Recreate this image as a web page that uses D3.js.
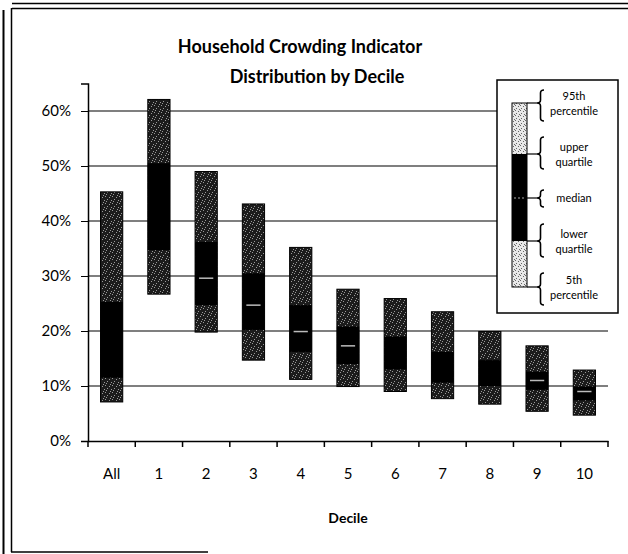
<!DOCTYPE html>
<html>
<head>
<meta charset="utf-8">
<script src="https://cdn.jsdelivr.net/npm/d3@7"></script>
<style>
  body { margin: 0; background: #fff; }
  svg { display: block; font-family: Lato, "Open Sans", sans-serif; }
</style>
</head>
<body>
<svg id="chart" width="628" height="554"></svg>
<script>
// deciles, values (as fractions)
var categories = ["All", "1", "2", "3", "4", "5", "6", "7", "8", "9", "10"];
var p5     = [0.071, 0.267, 0.198, 0.147, 0.112, 0.099, 0.090, 0.077, 0.067, 0.054, 0.047];
var q1     = [0.115, 0.347, 0.247, 0.202, 0.162, 0.140, 0.130, 0.106, 0.100, 0.093, 0.074];
var median = [null,  null,  0.296, 0.247, 0.199, 0.173, null,  null,  null,  0.110, 0.090];
var q3     = [0.253, 0.505, 0.362, 0.305, 0.247, 0.208, 0.190, 0.162, 0.147, 0.126, 0.099];
var p95    = [0.453, 0.621, 0.490, 0.431, 0.352, 0.276, 0.259, 0.235, 0.199, 0.173, 0.129];
var yTicks = [0, 0.1, 0.2, 0.3, 0.4, 0.5, 0.6];

var legendItems = [
    { lines: ["95th", "percentile"], y0: 90, y1: 121, tip: 103 },
    { lines: ["upper", "quartile"],  y0: 137, y1: 169, tip: 154 },
    { lines: ["median"],             y0: 190, y1: 207, tip: 198 },
    { lines: ["lower", "quartile"],  y0: 224, y1: 257, tip: 241 },
    { lines: ["5th", "percentile"],  y0: 273, y1: 305, tip: 287 }
];

var data = categories.map(function(c, i) {
    return { cat: c, p5: p5[i], q1: q1[i], med: median[i], q3: q3[i], p95: p95[i] };
});

var svg = d3.select("#chart");

// speckled textures
var defs = svg.append("defs");
var dark = defs.append("pattern").attr("id", "speckDark")
    .attr("width", 7).attr("height", 7).attr("patternUnits", "userSpaceOnUse");
dark.append("rect").attr("width", 7).attr("height", 7).attr("fill", "#1c1c1c");
[[0, 0], [4, 1], [2, 3], [6, 4], [1, 5], [5, 6]].forEach(function(p) {
    dark.append("rect").attr("x", p[0]).attr("y", p[1]).attr("width", 1).attr("height", 1).attr("fill", "#9a9a9a");
});
var light = defs.append("pattern").attr("id", "speckLight")
    .attr("width", 5).attr("height", 5).attr("patternUnits", "userSpaceOnUse");
light.append("rect").attr("width", 5).attr("height", 5).attr("fill", "#e8e8e8");
[[0, 0], [3, 1], [1, 3], [4, 4]].forEach(function(p) {
    light.append("rect").attr("x", p[0]).attr("y", p[1]).attr("width", 1).attr("height", 1).attr("fill", "#666");
});

// page frame (scanned borders)
var frame = svg.append("g").attr("stroke", "#000").attr("fill", "none");
frame.append("line").attr("x1", 3.5).attr("x2", 3.5).attr("y1", 10).attr("y2", 554).attr("stroke-width", 2);
frame.append("line").attr("x1", 11.5).attr("x2", 11.5).attr("y1", 8).attr("y2", 552).attr("stroke-width", 1.5);
frame.append("line").attr("x1", 12).attr("x2", 628).attr("y1", 3.5).attr("y2", 3.5).attr("stroke-width", 1.5);
frame.append("line").attr("x1", 12).attr("x2", 628).attr("y1", 8.5).attr("y2", 8.5).attr("stroke-width", 1.5);
frame.append("line").attr("x1", 11).attr("x2", 208).attr("y1", 552).attr("y2", 552).attr("stroke-width", 1.5);

var xScale = d3.scaleBand()
    .domain(categories)
    .range([88, 608])
    .paddingInner(0.53)
    .paddingOuter(0.265);

var yScale = d3.scaleLinear()
    .domain([0, 0.65])
    .range([441, 83.5]);

// gridlines
svg.append("g").selectAll("line")
    .data(yTicks.slice(1))
    .enter().append("line")
    .attr("x1", 88).attr("x2", 608)
    .attr("y1", function(d) { return yScale(d); })
    .attr("y2", function(d) { return yScale(d); })
    .attr("stroke", "#000").attr("stroke-width", 1.2);

// y axis
var yAxis = d3.axisLeft(yScale)
    .tickValues(yTicks)
    .tickSize(7)
    .tickPadding(10)
    .tickFormat(d3.format(".0%"));
var yG = svg.append("g").attr("transform", "translate(88,0)").call(yAxis);
yG.select(".domain").attr("stroke-width", 1.5);
yG.selectAll("text").attr("font-family", "Lato").attr("font-size", 15).attr("fill", "#000");

// x axis
var xAxis = d3.axisBottom(xScale).tickSize(0).tickPadding(27);
var xG = svg.append("g").attr("transform", "translate(0,441)").call(xAxis);
xG.select(".domain").attr("stroke-width", 1.5);
xG.selectAll("text").attr("font-family", "Lato").attr("font-size", 15).attr("fill", "#000");
var step = xScale.step();
var edges = categories.map(function(c) { return xScale(c) - xScale.paddingInner() * step / 2; });
edges.push(608);
xG.selectAll(".edge").data(edges).enter().append("line")
    .attr("x1", function(d) { return d; }).attr("x2", function(d) { return d; })
    .attr("y1", 0).attr("y2", 6)
    .attr("stroke", "#000").attr("stroke-width", 1.5);

// bars
var bw = xScale.bandwidth();
var bars = svg.append("g").selectAll("g")
    .data(data)
    .enter().append("g");

bars.append("rect")
    .attr("x", function(d) { return xScale(d.cat); })
    .attr("width", bw)
    .attr("y", function(d) { return yScale(d.p95); })
    .attr("height", function(d) { return yScale(d.p5) - yScale(d.p95); })
    .attr("fill", "url(#speckDark)")
    .attr("stroke", "#000").attr("stroke-width", 1);

bars.append("rect")
    .attr("x", function(d) { return xScale(d.cat); })
    .attr("width", bw)
    .attr("y", function(d) { return yScale(d.q3); })
    .attr("height", function(d) { return yScale(d.q1) - yScale(d.q3); })
    .attr("fill", "#000");

bars.filter(function(d) { return d.med !== null; })
    .append("line")
    .attr("x1", function(d) { return xScale(d.cat) + 4; })
    .attr("x2", function(d) { return xScale(d.cat) + bw - 4; })
    .attr("y1", function(d) { return yScale(d.med); })
    .attr("y2", function(d) { return yScale(d.med); })
    .attr("stroke", "#bbb").attr("stroke-width", 1.5);

// titles
svg.append("text").attr("x", 300).attr("y", 53).attr("text-anchor", "middle")
    .attr("font-size", 18).attr("font-weight", "bold").text("Household Crowding Indicator");
svg.append("text").attr("x", 317).attr("y", 83).attr("text-anchor", "middle")
    .attr("font-size", 18).attr("font-weight", "bold").text("Distribution by Decile");
svg.append("text").attr("x", 348).attr("y", 523).attr("text-anchor", "middle")
    .attr("font-size", 14).attr("font-weight", "bold").text("Decile");

// legend
var lg = svg.append("g");
lg.append("rect").attr("x", 497).attr("y", 80).attr("width", 121).attr("height", 233)
    .attr("fill", "#fff").attr("stroke", "#000").attr("stroke-width", 1.5);
lg.append("rect").attr("x", 512).attr("y", 103).attr("width", 15).attr("height", 184)
    .attr("fill", "url(#speckLight)").attr("stroke", "#000").attr("stroke-width", 1);
lg.append("rect").attr("x", 512).attr("y", 154).attr("width", 15).attr("height", 87).attr("fill", "#000");
lg.append("line").attr("x1", 514).attr("x2", 525).attr("y1", 198).attr("y2", 198)
    .attr("stroke", "#aaa").attr("stroke-width", 1.2).attr("stroke-dasharray", "2,2");

function brace(x, y0, y1, tip) {
    var w = 7, r = 3, m = x + w / 2;
    return "M" + (x + w) + "," + y0 +
        " Q" + m + "," + y0 + " " + m + "," + (y0 + r) +
        " L" + m + "," + (tip - r) +
        " Q" + m + "," + tip + " " + x + "," + tip +
        " Q" + m + "," + tip + " " + m + "," + (tip + r) +
        " L" + m + "," + (y1 - r) +
        " Q" + m + "," + y1 + " " + (x + w) + "," + y1;
}

var items = lg.selectAll(".item").data(legendItems).enter().append("g");
items.append("line").attr("x1", 527).attr("x2", 537)
    .attr("y1", function(d) { return d.tip; }).attr("y2", function(d) { return d.tip; })
    .attr("stroke", "#000").attr("stroke-width", 1.2);
items.append("path").attr("d", function(d) { return brace(537, d.y0, d.y1, d.tip); })
    .attr("fill", "none").attr("stroke", "#000").attr("stroke-width", 1.6);
items.each(function(d) {
    var g = d3.select(this);
    var n = d.lines.length;
    d.lines.forEach(function(t, k) {
        g.append("text").attr("x", 574).attr("y", d.tip + 4 + (k - (n - 1) / 2) * 15)
            .attr("text-anchor", "middle").attr("font-size", 11).text(t);
    });
});
</script>
</body>
</html>
